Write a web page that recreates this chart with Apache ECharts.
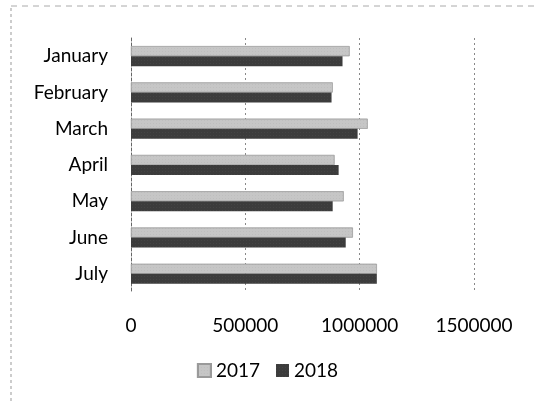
<!DOCTYPE html>
<html>
<head>
<meta charset="utf-8">
<script src="https://cdn.jsdelivr.net/npm/echarts@6/dist/echarts.min.js"></script>
<style>
  html, body { margin: 0; padding: 0; background: #fff; }
  #chart { width: 535px; height: 410px; }
</style>
</head>
<body>
<div id="chart"></div>
<script>
// 数据
var months = ['January', 'February', 'March', 'April', 'May', 'June', 'July'];
var sales2017 = [956000, 882000, 1035000, 890000, 930000, 970000, 1075000];
var sales2018 = [925000, 877000, 991000, 908000, 882000, 939000, 1075000];
var xTicks = [0, 500000, 1000000, 1500000];

var font = 'Lato, "Open Sans", sans-serif';

var chart = echarts.init(document.getElementById('chart'));

// 柱状图
var option = {
  animation: false,
  textStyle: { fontFamily: font },
  grid: { left: 131, right: 61, top: 38, bottom: 118 },
  legend: {
    data: ['2017', '2018'],
    bottom: 25,
    left: 'center',
    itemWidth: 13,
    itemHeight: 13,
    itemGap: 16,
    icon: 'rect',
    textStyle: { fontSize: 19, color: '#000', fontFamily: font }
  },
  xAxis: {
    type: 'value',
    min: xTicks[0],
    max: xTicks[xTicks.length - 1],
    interval: 500000,
    axisLine: { show: false },
    axisTick: { show: false },
    axisLabel: { fontSize: 19, color: '#000', margin: 24, formatter: function (v) { return String(v); } },
    splitLine: { show: true, lineStyle: { color: '#888', type: [2, 3], width: 1 } }
  },
  yAxis: {
    type: 'category',
    data: months,
    inverse: true,
    axisLine: { show: true, lineStyle: { color: '#666', type: [3, 2] } },
    axisTick: { show: false },
    axisLabel: { fontSize: 19, color: '#000', margin: 23 }
  },
  series: [
    {
      name: '2017',
      type: 'bar',
      data: sales2017,
      barWidth: 10,
      barGap: '0%',
      itemStyle: {
        color: '#c6c6c6',
        borderColor: '#9a9a9a',
        borderWidth: 0.5,
        decal: { symbol: 'rect', symbolSize: 0.35, dashArrayX: [1, 2], dashArrayY: [1, 2], color: 'rgba(120,120,120,0.5)', rotation: 0 }
      }
    },
    {
      name: '2018',
      type: 'bar',
      data: sales2018,
      barWidth: 10,
      barGap: '0%',
      itemStyle: {
        color: '#3c3c3c',
        decal: { symbol: 'rect', symbolSize: 0.35, dashArrayX: [1, 2], dashArrayY: [1, 2], color: 'rgba(170,170,170,0.45)', rotation: 0 }
      }
    }
  ],
  graphic: [
    { type: 'line', shape: { x1: 11, y1: 8, x2: 11, y2: 402 }, style: { stroke: '#999', lineWidth: 1, lineDash: [3, 3] } },
    { type: 'line', shape: { x1: 11, y1: 6, x2: 535, y2: 6 }, style: { stroke: '#aaa', lineWidth: 1, lineDash: [6, 5] } }
  ]
};

chart.setOption(option);
</script>
</body>
</html>
